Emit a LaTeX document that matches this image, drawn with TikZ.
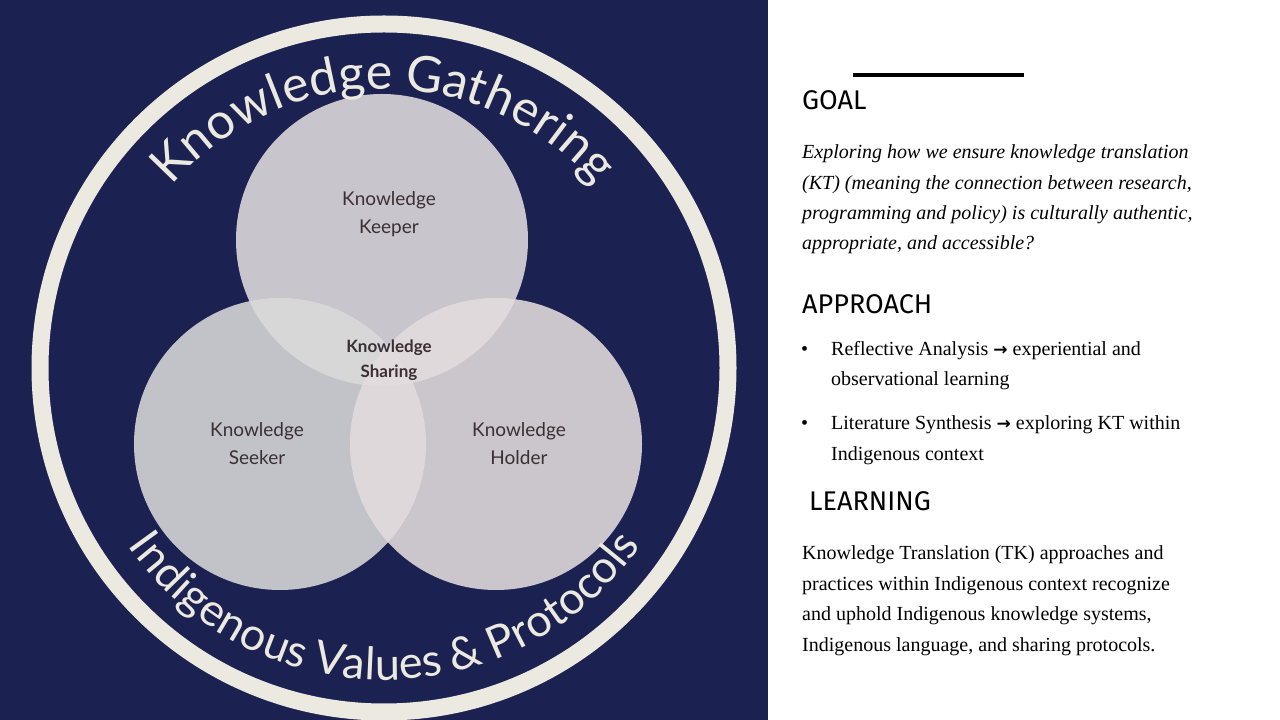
\documentclass[tikz,border=0pt]{standalone}
\usepackage{fontspec}
\setmainfont{Liberation Serif}
\newfontfamily\lab{Lato}
\newfontfamily\head{Fira Sans}
\newfontfamily\dv{DejaVu Sans}
\usetikzlibrary{calc}
\definecolor{navy}{HTML}{1B2150}
\definecolor{cream}{HTML}{ECE9E1}
\definecolor{labc}{HTML}{3A3034}
\definecolor{vtop}{HTML}{E2DCDE}
\definecolor{vleft}{HTML}{DADADA}
\definecolor{vright}{HTML}{E4DCDE}
\tikzset{x=1pt,y=1pt,
 lbl/.style={font=\lab\fontsize{19}{28}\selectfont,text=labc,align=center},
 ln/.style={anchor=base west,inner sep=0pt,font=\fontsize{20}{22}\selectfont},
 hd/.style={anchor=base west,inner sep=0pt,font=\head\fontsize{27}{30}\selectfont},
 ringtxt/.style={anchor=base,inner sep=0pt,text=cream},
 venn/.style={fill opacity=0.88}}
\begin{document}
\begin{tikzpicture}
\useasboundingbox (0,0) rectangle (1280,720);
\fill[white] (0,0) rectangle (1280,720);
\fill[navy] (0,0) rectangle (768,720);
\coordinate (c) at (384,352);
\draw[cream,line width=17] (c) circle (344);
% venn
\fill[venn,color=vtop] (382,480) circle (146);
\fill[venn,color=vleft] (280,276) circle (146);
\fill[venn,color=vright] (496,276) circle (146);
\node[lbl] (kk) at (389,506) {Knowledge\\Keeper};
\node[lbl,font=\lab\bfseries\fontsize{17}{25}\selectfont] (ks) at (389,360) {Knowledge\\Sharing};
\node[lbl] (kse) at (257,276) {Knowledge\\Seeker};
\node[lbl] (kh) at (519,276) {Knowledge\\Holder};
% ring texts: top
\gdef\acc{0}
\foreach \ch/\w in {K/.62,n/.57,o/.57,w/.8,l/.25,e/.53,d/.57,g/.52,e/.53,{}/.25,G/.7,a/.5,t/.35,h/.57,e/.53,r/.38,i/.24,n/.57,g/.52}{
  \pgfmathsetmacro\mid{\acc+\w/2}
  \pgfmathsetmacro\ang{90+(9.57/2-\mid)*50/279*180/pi}
  \node[ringtxt,font=\lab\fontsize{50}{50}\selectfont,rotate=\ang-90] at ($(c)+(\ang:279)$) {\ch};
  \pgfmathsetmacro\newacc{\acc+\w}
  \global\let\acc\newacc
}
% bottom
\gdef\acc{0}
\foreach \ch/\w in {I/.28,n/.57,d/.57,i/.24,g/.52,e/.53,n/.57,o/.57,u/.57,s/.42,{}/.25,V/.65,a/.5,l/.25,u/.57,e/.53,s/.42,{}/.25,\&/.68,{}/.25,P/.6,r/.38,o/.57,t/.35,o/.57,c/.47,o/.57,l/.25,s/.42}{
  \pgfmathsetmacro\mid{\acc+\w/2}
  \pgfmathsetmacro\ang{270-(13.37/2-\mid)*45/312*180/pi}
  \node[ringtxt,font=\lab\fontsize{45}{45}\selectfont,rotate=\ang+90] at ($(c)+(\ang:312)$) {\ch};
  \pgfmathsetmacro\newacc{\acc+\w}
  \global\let\acc\newacc
}
% right panel
\draw[line width=4] (853,645) -- (1024,645);
\node[hd] (goal) at (802,610) {GOAL};
\node[ln,font=\itshape\fontsize{20}{22}\selectfont] (g1) at (802,561) {Exploring how we ensure knowledge translation};
\node[ln,font=\itshape\fontsize{20}{22}\selectfont] (g2) at (802,530) {(KT) (meaning the connection between research,};
\node[ln,font=\itshape\fontsize{20}{22}\selectfont] (g3) at (802,500) {programming and policy) is culturally authentic,};
\node[ln,font=\itshape\fontsize{20}{22}\selectfont] (g4) at (802,470) {appropriate, and accessible?};
\node[hd] (appr) at (802,406) {APPROACH};
\node[ln] (b1) at (801,364) {•};
\node[ln] (a1) at (831,364) {Reflective Analysis {\dv\bfseries\fontsize{17}{20}\selectfont →} experiential and};
\node[ln] (a2) at (831,334) {observational learning};
\node[ln] (b2) at (801,290) {•};
\node[ln] (a3) at (831,290) {Literature Synthesis {\dv\bfseries\fontsize{17}{20}\selectfont →} exploring KT within};
\node[ln] (a4) at (831,259) {Indigenous context};
\node[hd] (learn) at (809,209) {LEARNING};
\node[ln] (l1) at (802,160) {Knowledge Translation (TK) approaches and};
\node[ln] (l2) at (802,129) {practices within Indigenous context recognize};
\node[ln] (l3) at (802,99) {and uphold Indigenous knowledge systems,};
\node[ln] (l4) at (802,68) {Indigenous language, and sharing protocols.};
\end{tikzpicture}
\end{document}
